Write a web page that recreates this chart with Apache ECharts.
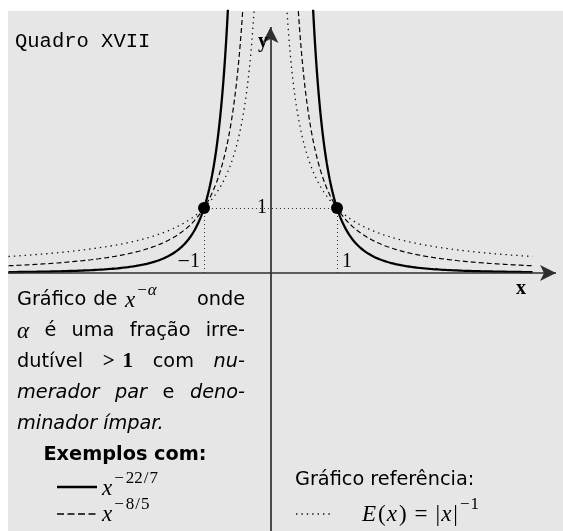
<!DOCTYPE html>
<html>
<head>
<meta charset="utf-8">
<script src="https://cdn.jsdelivr.net/npm/echarts@6/dist/echarts.min.js"></script>
<style>
  html, body { margin: 0; padding: 0; background: #fff; }
  #chart { width: 563px; height: 531px; }
</style>
</head>
<body>
<div id="chart"></div>
<script>
// Power functions |x|^(-a) with even-numerator exponents, plus the reference 1/|x|
const curveNames = ['x^(-22/7)', 'x^(-8/5)', 'E(x) = |x|^(-1)'];
const curveExponents = [22 / 7, 8 / 5, 1];
const curveStyles = ['solid', 'dashed', 'dotted'];
const xLimit = 3.95;            // curves are drawn on [-xLimit, xLimit]
const markedPoints = [[-1, 1], [1, 1]];
const tickLabels = ['1', '1'];  // at x = -1 (with minus sign) and x = 1
const yTickLabel = '1';

// plotting window
const xMin = -3.947, xMax = 4.398;
const yMin = -3.969, yMax = 4.031;
const xArrowEnd = 4.293, yArrowEnd = 3.785;

// sample abscissas for one branch (denser near the asymptote)
const branchX = [];
for (let x = 0.2; x < 1.5; x += 0.005) branchX.push(+x.toFixed(4));
for (let x = 1.5; x <= xLimit + 1e-9; x += 0.02) branchX.push(+x.toFixed(4));

const SANS = '"DejaVu Sans", "Liberation Sans", sans-serif';
const SERIF = '"Liberation Serif", "Times New Roman", serif';
const MONO = '"Liberation Mono", "Courier New", monospace';

const lineStyles = {
  solid:  { color: '#000', width: 2.3, type: 'solid' },
  dashed: { color: '#000', width: 1.2, type: [5, 3] },
  dotted: { color: '#111', width: 1.3, type: [1.4, 4] }
};

const series = [];
curveExponents.forEach((a, i) => {
  const style = lineStyles[curveStyles[i]];
  [-1, 1].forEach(side => {
    const pts = branchX.map(x => [side * x, Math.pow(x, -a)]);
    if (side < 0) pts.reverse();
    series.push({
      name: curveNames[i],
      type: 'line',
      data: pts,
      showSymbol: false,
      symbol: 'none',
      clip: true,
      silent: true,
      z: 4,
      lineStyle: style
    });
  });
});

// dotted guides to the marked points
series.push({
  type: 'line',
  data: [],
  silent: true,
  z: 2,
  markLine: {
    silent: true,
    animation: false,
    label: { show: false },
    symbol: ['none', 'none'],
    lineStyle: { color: '#333', width: 1, type: [1, 3] },
    emphasis: { disabled: true },
    data: [
      [{ coord: [markedPoints[0][0], 0] }, { coord: markedPoints[0] }],
      [{ coord: [markedPoints[1][0], 0] }, { coord: markedPoints[1] }],
      [{ coord: markedPoints[0] }, { coord: markedPoints[1] }]
    ]
  }
});
// coordinate axes with arrow heads
series.push({
  type: 'line',
  data: [],
  silent: true,
  z: 3,
  markLine: {
    silent: true,
    animation: false,
    label: { show: false },
    symbol: ['none', 'arrow'],
    symbolSize: [12, 16],
    lineStyle: { color: '#2e2e2e', width: 1.7, type: 'solid' },
    emphasis: { disabled: true },
    data: [
      [{ coord: [xMin, 0] }, { coord: [xArrowEnd, 0] }],
      [{ coord: [0, yMin] }, { coord: [0, yArrowEnd] }]
    ]
  }
});
series.push({
  type: 'scatter',
  data: markedPoints,
  symbol: 'circle',
  symbolSize: 12,
  silent: true,
  z: 6,
  itemStyle: { color: '#000', opacity: 1 }
});

function txt(x, y, text, font, align) {
  align = align || 'left';
  return {
    type: 'text', x: x, y: y, silent: true, z: 10,
    style: {
      text: text, font: font, fill: '#000',
      textAlign: align, align: align,
      textVerticalAlign: 'middle', verticalAlign: 'middle'
    }
  };
}

const measureCtx = document.createElement('canvas').getContext('2d');
function widthOf(text, font) {
  measureCtx.font = font;
  return measureCtx.measureText(text).width;
}

const fSans = '19.3px ' + SANS;
const fSansIt = 'oblique 19.3px ' + SANS;
const fMath = 'italic 23px ' + SERIF;
const fRoman = '23px ' + SERIF;
const fSup = 'italic 17px ' + SERIF;
const fSupUp = '17px ' + SERIF;
const fBoldM = 'bold 21px ' + SERIF;

// a token is a list of [text, font, raise, extraSpace] pieces placed side by side
function tok() { return Array.prototype.slice.call(arguments); }
function tokWidth(t) { return t.reduce((s, p) => s + widthOf(p[0], p[1]) + (p[3] || 0), 0); }
function placeTok(t, x, y, out) {
  t.forEach(p => {
    out.push(txt(x, y - (p[2] || 0), p[0], p[1]));
    x += widthOf(p[0], p[1]) + (p[3] || 0);
  });
}
// justified line between left and right edges
function justify(tokens, left, right, y, out) {
  const ws = tokens.map(tokWidth);
  const total = ws.reduce((a, b) => a + b, 0);
  const gap = tokens.length > 1 ? (right - left - total) / (tokens.length - 1) : 0;
  let x = left;
  tokens.forEach((t, i) => { placeTok(t, x, y, out); x += ws[i] + gap; });
}
function natural(tokens, left, y, gap, out) {
  let x = left;
  tokens.forEach(t => { placeTok(t, x, y, out); x += tokWidth(t) + gap; });
}

const graphics = [
  txt(15, 42, 'Quadro XVII', '20.5px ' + MONO),
  // axis names and tick labels
  txt(263, 42, 'y', 'bold 20px ' + SERIF, 'center'),
  txt(521, 289, 'x', 'bold 20px ' + SERIF, 'center'),
  txt(262, 208, yTickLabel, '20px ' + SERIF, 'center'),
  txt(190, 262, '\u2212', '22px ' + SERIF, 'right'),
  txt(200, 262, tickLabels[0], '20px ' + SERIF, 'right'),
  txt(342, 262, tickLabels[1], '20px ' + SERIF, 'left')
];

const L = 17, R = 245;
// first line: math placed after "de", final word flush right
natural([tok(['Gr\u00e1fico', fSans]), tok(['de', fSans])], L, 300, 7, graphics);
placeTok(tok(['x', fMath, -1, 2], ['\u2212', fSupUp, 9, 1], ['\u03b1', fSup, 9]), 125, 300, graphics);
graphics.push(txt(R, 300, 'onde', fSans, 'right'));

justify([
  tok(['\u03b1', fMath, -1]), tok(['\u00e9', fSans]), tok(['uma', fSans]),
  tok(['fra\u00e7\u00e3o', fSans]), tok(['irre-', fSans])
], L, R, 331, graphics);
justify([
  tok(['dut\u00edvel', fSans]), tok(['>', fBoldM, 0, 8], ['1', fBoldM]),
  tok(['com', fSans]), tok(['nu-', fSansIt])
], L, R, 362, graphics);
justify([
  tok(['merador', fSansIt]), tok(['par', fSansIt]), tok(['e', fSans]), tok(['deno-', fSansIt])
], L, R, 393, graphics);
natural([tok(['minador', fSansIt]), tok(['\u00edmpar.', fSansIt])], L, 424, 6, graphics);

graphics.push(txt(125, 455, 'Exemplos com:', 'bold 19.3px ' + SANS, 'center'));
placeTok(tok(['x', fMath, -1, 2], ['\u2212', fSupUp, 9, 2], ['22', fSupUp, 9, 1], ['/', fSupUp, 9, 1], ['7', fSupUp, 9]), 102, 488, graphics);
placeTok(tok(['x', fMath, -1, 2], ['\u2212', fSupUp, 9, 2], ['8', fSupUp, 9, 1], ['/', fSupUp, 9, 1], ['5', fSupUp, 9]), 102, 514, graphics);

graphics.push(txt(295, 480, 'Gr\u00e1fico refer\u00eancia:', fSans));
placeTok(tok(
  ['E', fMath, -1, 2], ['(', fRoman, -1, 1], ['x', fMath, -1, 2], [')', fRoman, -1, 8],
  ['=', fRoman, -1, 8], ['|', fRoman, -1, 1], ['x', fMath, -1, 2],
  ['|', fRoman, -1, 2], ['\u2212', fSupUp, 9, 1], ['1', fSupUp, 9]
), 362, 514, graphics);

// legend strokes
graphics.push(
  { type: 'line', silent: true, z: 10,
    shape: { x1: 57, y1: 487, x2: 97, y2: 487 },
    style: { stroke: '#000', lineWidth: 2.3 } },
  { type: 'line', silent: true, z: 10,
    shape: { x1: 57, y1: 514, x2: 97, y2: 514 },
    style: { stroke: '#000', lineWidth: 1.3, lineDash: [7, 3.5] } },
  { type: 'line', silent: true, z: 10,
    shape: { x1: 296, y1: 514, x2: 330, y2: 514 },
    style: { stroke: '#111', lineWidth: 1.3, lineDash: [1.4, 4] } }
);

const chart = echarts.init(document.getElementById('chart'), null, { renderer: 'canvas' });
chart.setOption({
  animation: false,
  backgroundColor: '#ffffff',
  grid: { left: 8, top: 11, right: 0, bottom: 0, show: true, backgroundColor: '#e6e6e6', borderWidth: 0 },
  xAxis: { type: 'value', min: xMin, max: xMax, show: false },
  yAxis: { type: 'value', min: yMin, max: yMax, show: false },
  series: series,
  graphic: graphics
});
</script>
</body>
</html>
